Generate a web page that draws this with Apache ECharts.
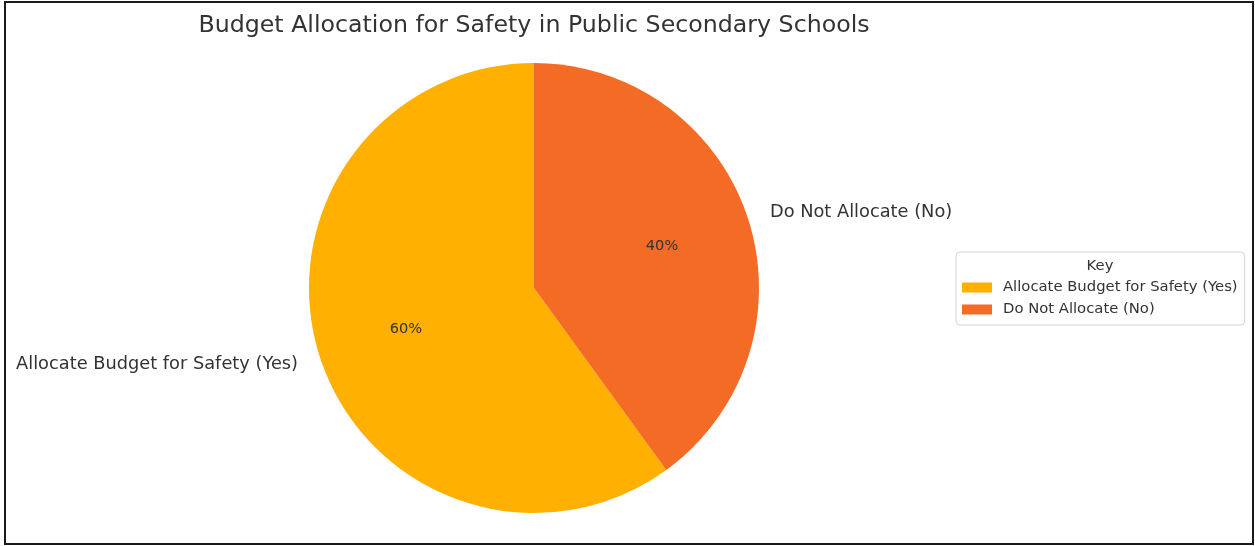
<!DOCTYPE html>
<html>
<head>
<meta charset="utf-8">
<script src="https://cdn.jsdelivr.net/npm/echarts@6/dist/echarts.min.js"></script>
<style>
  html, body { margin: 0; padding: 0; background: #fff; }
  #chart { width: 1255px; height: 546px; }
</style>
</head>
<body>
<div id="chart"></div>
<script>
var categories = ['Allocate Budget for Safety (Yes)', 'Do Not Allocate (No)']
var shares = [60, 40]
var colors = ['#ffb000', '#f36b24']

var pieData = []
for (var i = 0; i < categories.length; i++) {
    pieData.push({ name: categories[i], value: shares[i], itemStyle: { color: colors[i] } })
}

var myChart = echarts.init(document.getElementById('chart'))
var cx = 534, cy = 288, R = 225
var option = {
    backgroundColor: '#fff',
    animation: false,
    title: {
        text: 'Budget Allocation for Safety in Public Secondary Schools',
        left: cx - 5,
        top: 9,
        textAlign: 'center',
        textStyle: { fontFamily: 'DejaVu Sans', fontSize: 23.7, fontWeight: 'normal', color: '#333' }
    },
    legend: {
        orient: 'vertical',
        left: 956,
        top: 252,
        padding: [28, 7, 8, 6],
        borderColor: '#d4d4d4',
        borderWidth: 1,
        borderRadius: 4,
        itemWidth: 30,
        itemHeight: 10,
        itemGap: 7,
        icon: 'rect',
        data: categories,
        textStyle: { fontFamily: 'DejaVu Sans', fontSize: 14.8, color: '#333', padding: [0, 0, 0, 6] }
    },
    graphic: [
        {
            type: 'text',
            x: 1100, y: 266,
            style: { text: 'Key', fontFamily: 'DejaVu Sans', fontSize: 14.8, fill: '#333', align: 'center', verticalAlign: 'middle' }
        },
        {
            type: 'rect',
            shape: { x: 5, y: 2, width: 1248, height: 542 },
            style: { fill: 'none', stroke: '#1a1a1a', lineWidth: 2 }
        }
    ],
    series: [
        {
            // wedges + outside names
            type: 'pie',
            center: [cx, cy],
            radius: [0, R],
            startAngle: 90,
            clockwise: false,
            avoidLabelOverlap: false,
            silent: true,
            data: pieData,
            label: {
                show: true,
                position: 'outside',
                formatter: '{b}',
                distanceToLabelLine: 2,
                fontFamily: 'DejaVu Sans',
                fontSize: 17.8,
                color: '#333'
            },
            labelLine: { show: false, length: 21, length2: 0 }
        },
        {
            // transparent copy, only to put the % labels near 0.6 R
            type: 'pie',
            center: [cx, cy],
            radius: [0, R * 1.17],
            startAngle: 90,
            clockwise: false,
            silent: true,
            data: pieData.map(function (d) { return { name: d.name, value: d.value } }),
            itemStyle: { color: 'rgba(0,0,0,0)' },
            label: {
                show: true,
                position: 'inside',
                formatter: '{c}%',
                fontFamily: 'DejaVu Sans',
                fontSize: 14.6,
                color: '#333'
            },
            labelLine: { show: false }
        }
    ]
}
myChart.setOption(option)
</script>
</body>
</html>
